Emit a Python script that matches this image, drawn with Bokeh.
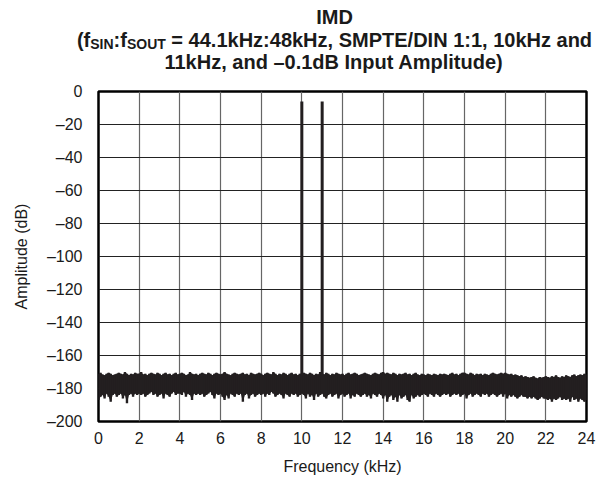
from bokeh.plotting import figure
from bokeh.models import FixedTicker, Range1d
from bokeh.layouts import column
from bokeh.core.properties import value
from bokeh.embed import file_html
from bokeh.resources import INLINE
import numpy as np

# ---------------- data ----------------
x_ticks = [0, 2, 4, 6, 8, 10, 12, 14, 16, 18, 20, 22, 24]
x_tick_labels = ["0", "2", "4", "6", "8", "10", "12", "14", "16", "18", "20", "22", "24"]
y_ticks = [0, -20, -40, -60, -80, -100, -120, -140, -160, -180, -200]
y_tick_labels = ["0", "–20", "–40", "–60", "–80", "–100", "–120", "–140", "–160", "–180", "–200"]

# FFT bins, 0.1 kHz spacing, 0..24 kHz
freq_khz = np.round(np.arange(0, 241) * 0.1, 1)

# upper edge of the noise floor (dB), read per 0.1 kHz
noise_upper = [
    -171, -170.5, -171.5, -172, -171, -170.5, -171, -172, -171.5, -171,
    -170.5, -171, -171.5, -170, -171, -172, -171, -171.5, -170.5, -171,
    -171, -170, -171.5, -171, -172, -171, -170.5, -171, -171.5, -170.5,
    -171, -172, -171, -170.5, -171.5, -171, -172, -171, -170.5, -171.5,
    -171, -170.5, -171, -172, -171.5, -170, -171, -171.5, -171, -172,
    -171, -170.5, -171, -171.5, -170.5, -171, -172, -171, -170.5, -171,
    -171.5, -171, -170, -171, -171.5, -172, -171, -170.5, -171, -171.5,
    -171, -170.5, -171.5, -171, -172, -170.5, -171, -171.5, -171, -170.5,
    -171, -172, -171, -170.5, -171, -171.5, -170, -171, -172, -171,
    -171.5, -170.5, -171, -172, -171, -170.5, -171.5, -171, -172, -171,
    -171, -170.5, -171, -171.5, -170.5, -171, -172, -171, -171.5, -170,
    -171, -171.5, -170.5, -171, -172, -171, -171.5, -170.5, -171, -171.5,
    -171, -172, -171, -170.5, -171.5, -171, -170.5, -171, -172, -171.5,
    -171, -170.5, -171, -171.5, -172, -171, -170.5, -171, -171.5, -170.5,
    -170, -171, -170.5, -171, -171.5, -170.5, -171, -172, -171, -171.5,
    -171, -170.5, -171.5, -171, -172, -171, -170.5, -171.5, -172, -171,
    -171.5, -172, -171, -171.5, -172, -171, -171.5, -172, -171, -171.5,
    -171, -171.5, -172, -171, -170.5, -171.5, -171, -172, -171, -170.5,
    -170.5, -171, -171.5, -170.5, -171, -172, -171, -171.5, -171, -172,
    -171, -171.5, -172, -171, -170.5, -171, -171.5, -171, -170.5, -171,
    -170.5, -171, -171.5, -171, -172, -171.5, -172, -172.5, -172, -173,
    -172.5, -173, -173.5, -173, -172.5, -173.5, -174, -173, -173.5, -173,
    -172.5, -173, -173.5, -172.5, -173, -172, -173, -173.5, -172.5, -173,
    -172, -172.5, -173, -172, -171.5, -172.5, -172, -171.5, -172, -171,
    -171.5,
]

# lower edge of the noise floor (dB), read per 0.1 kHz
noise_lower = [
    -187, -185, -184, -186, -183, -185, -188, -184, -183, -185,
    -184, -183, -186, -184, -189, -184, -183, -185, -183, -184,
    -183, -184, -183, -185, -184, -183, -182, -184, -183, -185,
    -184, -183, -186, -183, -184, -185, -183, -182, -184, -183,
    -183, -184, -182, -185, -183, -184, -187, -183, -184, -183,
    -184, -183, -185, -184, -183, -182, -184, -186, -183, -184,
    -183, -185, -187, -184, -186, -183, -184, -185, -183, -184,
    -183, -188, -184, -183, -186, -184, -183, -185, -184, -183,
    -184, -183, -185, -183, -184, -182, -183, -185, -184, -183,
    -184, -186, -183, -184, -185, -183, -184, -183, -185, -184,
    -183, -184, -186, -183, -185, -184, -187, -183, -185, -184,
    -183, -185, -186, -184, -183, -185, -184, -183, -186, -184,
    -183, -185, -184, -183, -186, -184, -185, -183, -184, -185,
    -184, -183, -185, -184, -186, -183, -184, -185, -183, -184,
    -186, -184, -188, -185, -184, -187, -185, -188, -184, -186,
    -185, -184, -187, -188, -184, -186, -185, -184, -185, -184,
    -183, -184, -185, -183, -184, -185, -183, -184, -185, -184,
    -183, -184, -183, -185, -184, -183, -184, -183, -185, -184,
    -183, -186, -184, -183, -185, -184, -183, -184, -185, -183,
    -184, -183, -185, -184, -183, -184, -185, -184, -183, -185,
    -183, -186, -184, -185, -184, -185, -186, -185, -184, -185,
    -185, -186, -185, -186, -185, -186, -187, -186, -185, -186,
    -186, -187, -186, -188, -186, -187, -186, -185, -187, -186,
    -187, -186, -188, -185, -187, -186, -188, -186, -187, -188,
    -187,
]

tone_freq_khz = [10.0, 11.0]
tone_level_db = [-6.0, -6.0]
tone_floor_db = [-172.0, -172.0]

title_line1 = "IMD"
# (text, style, leading gap in ems) -- SVG drops leading spaces, so gaps are explicit
title_line2 = [("(f", "main", 0.0), ("SIN", "sub", 0.0), (":f", "main", 0.0),
               ("SOUT", "sub", 0.0),
               ("= 44.1kHz:48kHz, SMPTE/DIN 1:1, 10kHz and", "main", 0.278)]
title_line3 = "11kHz, and –0.1dB Input Amplitude)"

# ---------------- layout constants ----------------
W = 605
TH = 80               # height of the title strip
H = 477 - TH          # height of the chart
BL, BR, BT, BB = 98, 19, 11, 56

FONT = "Liberation Sans"
INK = "#1a1a1a"
NOISE = "#231f20"

# ---------------- title strip ----------------
t = figure(width=W, height=TH, output_backend="svg", toolbar_location=None,
           x_range=Range1d(0, W), y_range=Range1d(0, TH),
           x_axis_type=None, y_axis_type=None,
           min_border_left=0, min_border_right=0, min_border_top=0, min_border_bottom=0,
           outline_line_color=None, background_fill_color="white",
           border_fill_color="white")
t.grid.visible = False
t.frame_align = False

AW = {' ': 278, '(': 333, ')': 333, 'f': 333, 'S': 667, 'I': 278, 'N': 722, ':': 333,
      'O': 778, 'U': 722, 'T': 611, '=': 584, '.': 278, 'k': 556, 'H': 722, 'z': 500,
      ',': 278, 'M': 833, 'P': 667, 'E': 667, '/': 278, 'D': 722, 'a': 556, 'n': 611,
      'd': 611, '–': 556, 'B': 722, 'A': 722, 'p': 611, 'm': 889, 'l': 278, 'i': 278,
      't': 333, 'u': 611, 'e': 556}

def tw(s, size):
    return sum(AW.get(c, 556) for c in s) * size / 1000.0

TS, SS = 20, 14
SIZE = {"main": TS, "sub": SS}
SUBOFF = {"main": 0, "sub": 4}
CX = 334

def put(txt, x, y_page, size):
    t.text(x=[x], y=[TH - y_page], text=[txt], text_font=value(FONT),
           text_font_size=value(f"{size}px"), text_font_style="bold",
           text_color=INK, text_align="left", text_baseline="alphabetic")

put(title_line1, CX - tw(title_line1, TS) / 2, 16, TS)
total = sum(tw(s, SIZE[k]) + g * SIZE[k] for s, k, g in title_line2)
xx = CX - total / 2
for s, k, g in title_line2:
    xx += g * SIZE[k]
    put(s, xx, 39 + SUBOFF[k], SIZE[k])
    xx += tw(s, SIZE[k])
put(title_line3, CX - tw(title_line3, TS) / 2, 61, TS)

# ---------------- chart ----------------
p = figure(width=W, height=H, output_backend="svg", toolbar_location=None,
           x_range=Range1d(0, 24), y_range=Range1d(-200, 0),
           min_border_left=BL, min_border_right=BR,
           min_border_top=BT, min_border_bottom=BB,
           background_fill_color="white", border_fill_color="white")
p.frame_align = False

p.outline_line_color = "black"
p.outline_line_width = 2.5

for ax in (p.xaxis[0], p.yaxis[0]):
    ax.axis_line_color = None
    ax.major_tick_line_color = None
    ax.minor_tick_line_color = None
    ax.major_tick_in = 0
    ax.major_tick_out = 0
    ax.major_label_text_font = FONT
    ax.major_label_text_font_size = "16px"
    ax.major_label_text_color = INK
    ax.axis_label_text_font = FONT
    ax.axis_label_text_font_size = "16px"
    ax.axis_label_text_font_style = "normal"
    ax.axis_label_text_color = INK

p.xaxis.ticker = FixedTicker(ticks=x_ticks)
p.xaxis.major_label_overrides = dict(zip(x_ticks, x_tick_labels))
p.yaxis.ticker = FixedTicker(ticks=y_ticks)
p.yaxis.major_label_overrides = dict(zip(y_ticks, y_tick_labels))
p.xaxis.axis_label = "Frequency (kHz)"
p.yaxis.axis_label = "Amplitude (dB)"
p.xaxis.major_label_standoff = 10
p.xaxis.axis_label_standoff = 11
p.yaxis.major_label_standoff = 16
p.yaxis.axis_label_standoff = 14

p.xgrid.grid_line_color = "#666666"
p.xgrid.grid_line_width = 1.2
p.ygrid.grid_line_color = "#222222"
p.ygrid.grid_line_width = 1.2

# noise floor: solid body plus jagged per-bin extent
p.varea(x=freq_khz, y1=noise_upper, y2=noise_lower, fill_color=NOISE)
p.segment(x0=freq_khz, y0=noise_upper, x1=freq_khz, y1=noise_lower,
          line_color=NOISE, line_width=2.4)
# tones
p.segment(x0=tone_freq_khz, y0=tone_floor_db, x1=tone_freq_khz, y1=tone_level_db,
          line_color=NOISE, line_width=3)

open("out.html", "w").write(file_html(column(t, p), INLINE))
